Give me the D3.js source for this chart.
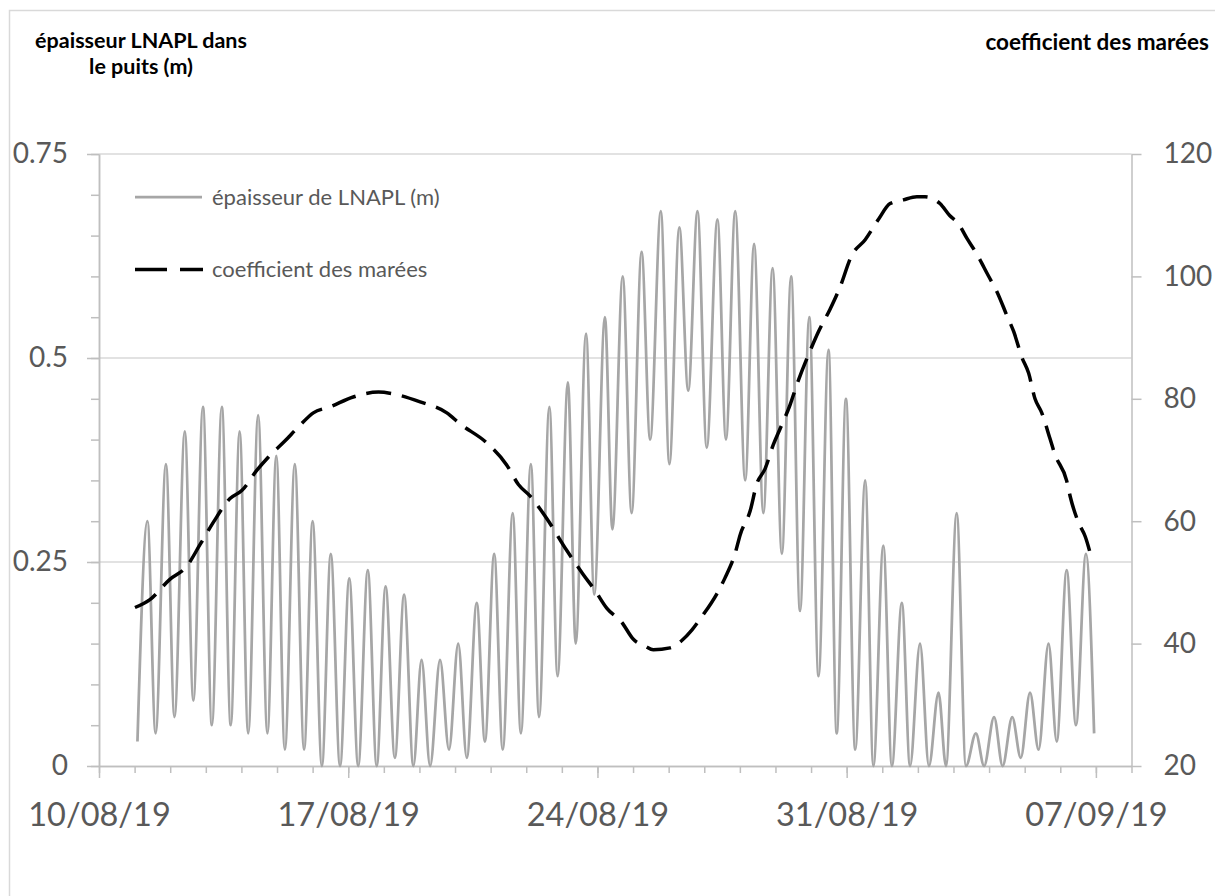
<!DOCTYPE html>
<html>
<head>
<meta charset="utf-8">
<script src="https://cdn.jsdelivr.net/npm/d3@7"></script>
<style>
  html, body { margin: 0; padding: 0; background: #fff; }
  svg { display: block; font-family: Lato, "Open Sans", sans-serif; }
</style>
</head>
<body>
<svg id="chart" width="1215" height="896"></svg>
<script>
// ---------- data ----------
// LNAPL thickness: time in days after 10/08/2019 00:00, value in m
const lnaplDay = [1.08,1.36,1.59,1.88,2.12,2.41,2.65,2.92,3.17,3.45,3.70,3.95,4.19,4.47,4.73,4.98,5.22,5.50,5.76,6.00,
  6.26,6.51,6.77,7.03,7.28,7.55,7.80,8.05,8.31,8.57,8.83,9.06,9.30,9.58,9.83,10.09,10.33,10.61,10.84,11.10,
  11.34,11.62,11.85,12.13,12.36,12.65,12.88,13.17,13.39,13.68,13.91,14.21,14.42,14.71,14.96,15.24,15.48,15.78,16.02,16.30,
  16.55,16.81,17.07,17.37,17.61,17.87,18.15,18.40,18.66,18.92,19.18,19.44,19.69,19.95,20.21,20.49,20.72,20.98,21.24,21.52,
  21.75,22.03,22.27,22.55,22.78,23.06,23.31,23.58,23.79,24.09,24.35,24.63,24.86,25.14,25.38,25.65,25.89,26.15,26.39,26.67,
  26.90,27.18,27.44,27.72,27.95];
const lnaplValue = [0.03,0.30,0.04,0.37,0.06,0.41,0.08,0.44,0.05,0.44,0.05,0.41,0.04,0.43,0.04,0.38,0.02,0.37,0.02,0.30,
  0.00,0.26,0.00,0.23,0.00,0.24,0.00,0.22,0.01,0.21,0.00,0.13,0.00,0.13,0.02,0.15,0.01,0.20,0.03,0.26,
  0.02,0.31,0.04,0.37,0.06,0.44,0.11,0.47,0.15,0.53,0.21,0.55,0.29,0.60,0.31,0.63,0.40,0.68,0.37,0.66,
  0.46,0.68,0.39,0.67,0.40,0.68,0.35,0.64,0.31,0.61,0.26,0.60,0.19,0.55,0.11,0.51,0.04,0.45,0.02,0.35,
  0.00,0.27,0.00,0.20,0.00,0.15,0.00,0.09,0.00,0.31,0.00,0.04,0.00,0.06,0.00,0.06,0.01,0.09,0.02,0.15,
  0.03,0.24,0.05,0.26,0.04];

// Tide coefficient: time in days after 10/08/2019 00:00
const tideDay = [1.01,1.43,1.99,2.46,2.84,3.21,3.68,4.01,4.43,4.76,5.22,5.60,6.02,6.49,7.14,7.85,8.27,9.02,9.77,10.14,
  10.89,11.45,11.78,12.11,12.58,13.14,13.60,13.93,14.26,14.68,15.01,15.34,15.57,16.04,16.37,16.65,16.93,17.35,17.58,17.87,
  18.01,18.29,18.47,18.71,18.94,19.13,19.41,19.60,19.97,20.21,20.53,20.81,21.14,21.52,21.89,22.22,22.59,22.97,23.20,23.62,
  23.90,24.14,24.37,24.65,24.98,25.22,25.50,25.69,25.92,26.11,26.29,26.48,26.71,26.85,27.18,27.28,27.51,27.70,27.88];
const tideValue = [45.9,47.2,50.5,52.6,56.2,59.8,63.7,65.0,68.3,70.5,73.1,75.4,77.7,78.7,80.3,81.1,80.8,79.5,77.7,75.9,
  72.8,69.2,66.0,64.1,60.4,55.2,51.3,48.7,45.8,43.5,40.7,39.6,39.0,39.3,40.5,42.2,44.4,48.1,50.7,54.8,
  57.8,61.7,66.0,68.6,72.5,75.1,79.0,82.3,87.8,91.0,94.6,98.2,103.4,106.0,109.3,111.9,112.5,113.0,113.0,111.9,
  109.9,108.6,106.3,103.7,100.1,97.5,93.6,91.0,86.8,84.2,80.0,77.7,73.5,70.9,66.6,64.0,59.8,57.5,53.9];

const leftTicks = [0, 0.25, 0.5, 0.75];
const rightTicks = [20, 40, 60, 80, 100, 120];
const dateTickLabels = ["10/08/19", "17/08/19", "24/08/19", "31/08/19", "07/09/19"];
const seriesNames = ["épaisseur de LNAPL (m)", "coefficient des marées"];
const leftTitle = ["épaisseur LNAPL dans", "le puits (m)"];
const rightTitle = "coefficient des marées";

// ---------- drawing ----------
const svg = d3.select("#chart");
const start = new Date(2019, 7, 10);
const end = new Date(2019, 8, 8);
const toDate = d => new Date(start.getTime() + d * 864e5);
const parseLabel = d3.timeParse("%d/%m/%y");

const x = d3.scaleTime().domain([start, end]).range([99, 1131.5]);
const yL = d3.scaleLinear().domain([0, 0.75]).range([766, 154]);
const yR = d3.scaleLinear().domain([20, 120]).range([766, 154]);

const axisColor = "#bfbfbf", gridColor = "#d9d9d9", labelColor = "#595959";

// outer chart border
svg.append("rect").attr("x", 9.5).attr("y", 10.5).attr("width", 1300).attr("height", 1000)
  .attr("fill", "none").attr("stroke", gridColor).attr("stroke-width", 1.5);

// gridlines
svg.append("g").selectAll("line").data(leftTicks.filter(d => d > 0)).join("line")
  .attr("x1", x.range()[0]).attr("x2", x.range()[1])
  .attr("y1", d => yL(d)).attr("y2", d => yL(d))
  .attr("stroke", gridColor).attr("stroke-width", 1.5);

function styleAxis(g) {
  g.selectAll("path.domain").attr("stroke", axisColor).attr("stroke-width", 1.5);
  g.selectAll(".tick line").attr("stroke", axisColor).attr("stroke-width", 1.5);
  g.selectAll("text").attr("fill", labelColor);
}

// left axis: minor then major
svg.append("g").attr("transform", `translate(${x.range()[0]},0)`)
  .call(d3.axisLeft(yL).tickValues(d3.range(0, 0.751, 0.05)).tickSize(8).tickSizeOuter(0).tickFormat(""))
  .call(styleAxis);
svg.append("g").attr("transform", `translate(${x.range()[0]},0)`)
  .call(d3.axisLeft(yL).tickValues(leftTicks).tickSize(12).tickSizeOuter(0).tickPadding(19)
        .tickFormat(d => String(d)))
  .call(styleAxis)
  .call(g => g.selectAll("text").attr("font-size", 28).attr("font-family", "Lato, sans-serif"));

// right axis
svg.append("g").attr("transform", `translate(${x.range()[1]},0)`)
  .call(d3.axisRight(yR).tickValues(rightTicks).tickSize(10).tickSizeOuter(0).tickPadding(22))
  .call(styleAxis)
  .call(g => g.selectAll("text").attr("font-size", 28).attr("font-family", "Lato, sans-serif"));

// bottom axis: daily minor ticks and weekly labelled ticks
svg.append("g").attr("transform", `translate(0,${yL(0)})`)
  .call(d3.axisBottom(x).tickValues(d3.timeDay.range(start, d3.timeDay.offset(end, 1))).tickSize(7).tickSizeOuter(0).tickFormat(""))
  .call(styleAxis);
svg.append("g").attr("transform", `translate(0,${yL(0)})`)
  .call(d3.axisBottom(x).tickValues(dateTickLabels.map(parseLabel)).tickSize(12).tickSizeOuter(0)
        .tickFormat(d3.timeFormat("%d/%m/%y")))
  .call(styleAxis)
  .call(g => g.selectAll("text").attr("font-size", 32.5).attr("font-family", "Lato, sans-serif")
        .attr("y", 60).attr("dy", 0));

// series
const lnapl = lnaplDay.map((d, i) => ({ t: toDate(d), v: lnaplValue[i] }));
const tide = tideDay.map((d, i) => ({ t: toDate(d), v: tideValue[i] }));

svg.append("path").datum(lnapl)
  .attr("fill", "none").attr("stroke", "#a6a6a6").attr("stroke-width", 2.75)
  .attr("stroke-linejoin", "round")
  .attr("d", d3.line().x(d => x(d.t)).y(d => yL(d.v)).curve(d3.curveMonotoneX));

svg.append("path").datum(tide)
  .attr("fill", "none").attr("stroke", "#000").attr("stroke-width", 3.5)
  .attr("stroke-dasharray", "25,11")
  .attr("d", d3.line().x(d => x(d.t)).y(d => yR(d.v)).curve(d3.curveMonotoneX));

// legend
const leg = svg.append("g");
leg.append("line").attr("x1", 135).attr("x2", 202).attr("y1", 197).attr("y2", 197)
  .attr("stroke", "#a6a6a6").attr("stroke-width", 2.75);
leg.append("text").attr("x", 212).attr("y", 205).attr("font-size", 22).attr("fill", labelColor)
  .text(seriesNames[0]);
leg.append("line").attr("x1", 135).attr("x2", 203).attr("y1", 269.5).attr("y2", 269.5)
  .attr("stroke", "#000").attr("stroke-width", 3.5).attr("stroke-dasharray", "32,13");
leg.append("text").attr("x", 212).attr("y", 277).attr("font-size", 22).attr("fill", labelColor)
  .text(seriesNames[1]);

// axis titles
svg.append("text").attr("x", 141).attr("y", 48).attr("text-anchor", "middle")
  .attr("font-weight", "bold").attr("font-size", 21.5).attr("fill", "#000").text(leftTitle[0]);
svg.append("text").attr("x", 141).attr("y", 74).attr("text-anchor", "middle")
  .attr("font-weight", "bold").attr("font-size", 21.5).attr("fill", "#000").text(leftTitle[1]);
svg.append("text").attr("x", 1209).attr("y", 50).attr("text-anchor", "end")
  .attr("font-weight", "bold").attr("font-size", 22.5).attr("fill", "#000").text(rightTitle);
</script>
</body>
</html>
